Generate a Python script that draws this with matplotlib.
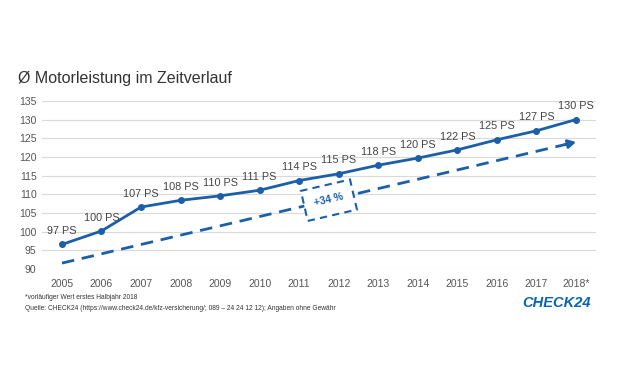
import matplotlib
matplotlib.use('Agg')
import matplotlib.pyplot as plt
import numpy as np

years = ['2005', '2006', '2007', '2008', '2009', '2010', '2011', '2012',
         '2013', '2014', '2015', '2016', '2017', '2018*']
ps = [96.6, 100.2, 106.6, 108.4, 109.6, 111.1, 113.7, 115.5,
      117.8, 119.7, 121.9, 124.6, 127.0, 130.0]
labels = ['97 PS', '100 PS', '107 PS', '108 PS', '110 PS', '111 PS', '114 PS',
          '115 PS', '118 PS', '120 PS', '122 PS', '125 PS', '127 PS', '130 PS']
trend = [91.6, 124.0]
yticks = [90, 95, 100, 105, 110, 115, 120, 125, 130, 135]

blue = '#1b5fa9'
plt.rcParams['font.family'] = ['Liberation Sans', 'DejaVu Sans']

fig = plt.figure(figsize=(6.2, 3.85), dpi=100)
ax = fig.add_axes([0.068, 0.301, 0.893, 0.437])

x = np.arange(len(years))
ax.plot(x, ps, color=blue, lw=2, marker='o', ms=4, zorder=3)
for xi, v, lab in zip(x, ps, labels):
    ax.annotate(lab, (xi, v), xytext=(0, 6), textcoords='offset points',
                ha='center', va='bottom', fontsize=7.8, color='#444444')

# trend arrow
ax.plot([0, len(years) - 1 - 0.25], [trend[0], trend[1] - 0.62], color=blue, lw=2,
        ls=(0, (4.5, 2.8)), zorder=2)
ax.annotate('', xy=(len(years) - 1, trend[1]),
            xytext=(len(years) - 1 - 0.3, trend[1] - 0.75),
            arrowprops=dict(arrowstyle='-|>,head_length=0.45,head_width=0.25',
                            color=blue, lw=2, shrinkA=0, shrinkB=0))

bx = 6.75
by = trend[0] + (trend[1] - trend[0]) * bx / (len(years) - 1)
ax.text(bx, by, '+34 %', rotation=13, rotation_mode='anchor', ha='center',
        va='center', fontsize=7.5, fontweight='bold', color=blue, zorder=4,
        bbox=dict(boxstyle='square,pad=1.0', fc='white', ec=blue, lw=1.5,
                  ls=(0, (3.5, 2.5))))

ax.set_xlim(-0.5, len(years) - 0.5)
ax.set_ylim(90, 135)
ax.set_yticks(yticks)
ax.set_xticks(x)
ax.set_xticklabels(years)
ax.tick_params(length=0, labelsize=7.5, labelcolor='#555555', pad=4)
ax.tick_params(axis='x', pad=7)
ax.grid(axis='y', color='#d9d9d9', lw=0.8)
ax.set_axisbelow(True)
for s in ax.spines.values():
    s.set_visible(False)

fig.text(0.029, 0.795, 'Ø Motorleistung im Zeitverlauf', fontsize=11.5,
         color='#333333', va='center')
fig.text(0.04, 0.226, '*vorläufiger Wert erstes Halbjahr 2018', fontsize=4.8,
         color='#333333', va='center')
fig.text(0.04, 0.2, 'Quelle: CHECK24 (https://www.check24.de/kfz-versicherung/; '
         '089 – 24 24 12 12); Angaben ohne Gewähr', fontsize=4.8,
         color='#333333', va='center')
fig.text(0.842, 0.213, 'CHECK24', fontsize=10.5, fontweight='bold',
         fontstyle='italic', color='#0a63b5', va='center')

fig.savefig('out.png', dpi=100, facecolor='white')
